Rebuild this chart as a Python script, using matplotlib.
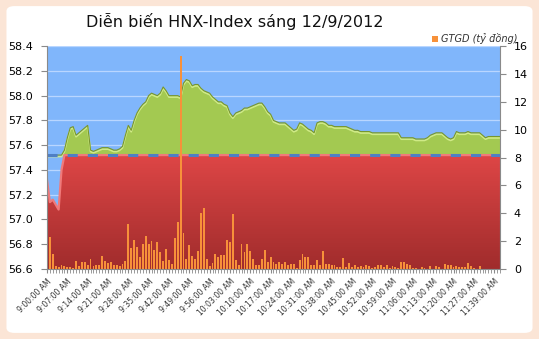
import numpy as np
import matplotlib.pyplot as plt
from matplotlib.patches import FancyBboxPatch
from matplotlib.colors import to_rgb

title = "Diễn biến HNX-Index sáng 12/9/2012"
legend_label = "GTGD (tỷ đồng)"
ref_level = 57.52

# one category per minute, morning session plus the closing minutes
minutes = list(range(9 * 60, 11 * 60 + 31)) + list(range(11 * 60 + 36, 11 * 60 + 42))
times = [f"{m // 60}:{m % 60:02d}:00 AM" for m in minutes]

index_vals = [
    57.32, 57.14, 57.16, 57.12, 57.08, 57.40, 57.56, 57.66, 57.74, 57.75,
    57.68, 57.70, 57.72, 57.74, 57.76, 57.56, 57.55, 57.56, 57.57, 57.58,
    57.58, 57.58, 57.57, 57.56, 57.56, 57.57, 57.59, 57.68, 57.76, 57.72,
    57.80, 57.86, 57.90, 57.93, 57.95, 58.00, 58.02, 58.01, 58.00, 58.02,
    58.07, 58.04, 58.00, 58.00, 58.00, 58.00, 57.99, 58.10, 58.13, 58.12,
    58.08, 58.09, 58.09, 58.06, 58.04, 58.03, 58.02, 57.99, 57.97, 57.95,
    57.95, 57.93, 57.92, 57.86, 57.83, 57.86, 57.87, 57.88, 57.90, 57.90,
    57.91, 57.92, 57.93, 57.94, 57.94, 57.91, 57.87, 57.85, 57.80, 57.79,
    57.78, 57.78, 57.78, 57.76, 57.74, 57.72, 57.73, 57.78, 57.77, 57.75,
    57.73, 57.72, 57.70, 57.78, 57.79, 57.79, 57.78, 57.76, 57.76, 57.75,
    57.75, 57.75, 57.75, 57.75, 57.74, 57.73, 57.72, 57.72, 57.71, 57.71,
    57.71, 57.71, 57.70, 57.70, 57.70, 57.70, 57.70, 57.70, 57.70, 57.70,
    57.70, 57.70, 57.66, 57.66, 57.66, 57.66, 57.66, 57.65, 57.65, 57.65,
    57.65, 57.66, 57.68, 57.69, 57.70, 57.70, 57.70, 57.68, 57.66, 57.65,
    57.66, 57.71, 57.70, 57.70, 57.70, 57.71, 57.70, 57.70, 57.70, 57.70,
    57.68, 57.66, 57.67, 57.67, 57.67, 57.67, 57.67,
]

volume = [
    0.0, 2.27, 1.08, 0.22, 0.12, 0.29, 0.22, 0.14, 0.12, 0.07,
    0.57, 0.22, 0.5, 0.5, 0.29, 0.72, 0.22, 0.29, 0.29, 0.93,
    0.57, 0.41, 0.5, 0.29, 0.29, 0.22, 0.36, 0.57, 3.23, 1.51,
    2.08, 1.56, 0.86, 1.79, 2.37, 1.79, 1.99, 1.36, 1.94, 1.22,
    0.57, 1.41, 0.65, 0.36, 2.22, 3.37, 15.3, 2.58, 0.72, 1.72,
    0.93, 0.72, 1.29, 4.02, 4.35, 0.72, 0.22, 0.43, 1.08, 0.86,
    1.0, 1.0, 2.08, 1.94, 3.95, 0.65, 0.29, 1.79, 1.22, 1.79,
    1.29, 0.72, 0.29, 0.29, 0.72, 1.36, 0.5, 0.86, 0.5, 0.36,
    0.5, 0.36, 0.5, 0.29, 0.36, 0.36, 0.07, 0.65, 1.08, 0.86,
    0.86, 0.29, 0.29, 0.65, 0.29, 1.29, 0.36, 0.36, 0.29, 0.29,
    0.14, 0.14, 0.79, 0.14, 0.43, 0.14, 0.26, 0.14, 0.19, 0.14,
    0.26, 0.22, 0.1, 0.14, 0.26, 0.26, 0.14, 0.31, 0.1, 0.19,
    0.14, 0.1, 0.48, 0.48, 0.33, 0.26, 0.05, 0.05, 0.03, 0.12,
    0.1, 0.03, 0.19, 0.03, 0.19, 0.14, 0.03, 0.33, 0.26, 0.26,
    0.14, 0.19, 0.14, 0.14, 0.14, 0.41, 0.22, 0.05, 0.03, 0.19,
    0.0, 0.0, 0.0, 0.0, 0.0, 0.0, 0.0,
]

x = np.arange(len(times))
y = np.array(index_vals)
ymin, ymax = 56.6, 58.4

fig = plt.figure(figsize=(5.39, 3.39), dpi=100, facecolor="#fbe5d6")
fig.add_artist(FancyBboxPatch((0.012, 0.018), 0.976, 0.964,
                              boxstyle="round,pad=0,rounding_size=0.015",
                              transform=fig.transFigure, facecolor="white",
                              edgecolor="none", zorder=-10))

ax = fig.add_axes([0.0872, 0.2065, 0.8404, 0.6575])
ax.set_facecolor("#80b6fb")
for g in np.arange(56.8, 58.41, 0.2):
    ax.axhline(g, color="#b9d6ff", lw=0.9, zorder=0.5)

# green: index above the reference
top = np.maximum(y, ref_level)
ax.fill_between(x, ref_level, top, color="#a3c951", lw=0, zorder=1)
ax.plot(x, top, color="#77962f", lw=0.8, zorder=1.2)
ax.plot(x, top - 0.012, color="#d5ee8d", lw=1.2, zorder=1.1, alpha=0.9)

# red: index capped at the reference, with a vertical gradient
low = np.minimum(y, ref_level)
red = ax.fill_between(x, ymin, low, facecolor="none", lw=0, zorder=2)
c_top, c_bot = np.array(to_rgb("#de4646")), np.array(to_rgb("#a02c2c"))
t = np.linspace(0, 1, 256)[:, None, None]
grad = c_top * (1 - t) + c_bot * t
im = ax.imshow(grad, extent=(0, len(x) - 1, ymin, ref_level), aspect="auto",
               origin="upper", zorder=2)
im.set_clip_path(red.get_paths()[0], transform=ax.transData)
ax.set_xlim(0, len(x) - 1)
ax.set_ylim(ymin, ymax)
ax.plot(x, low, color="#f07a7a", lw=1.6, zorder=2.2)
ax.axhline(ref_level, color="#4f7fc4", lw=2.2, ls=(0, (3.3, 3.3)), zorder=2.5)

ax.set_yticks(np.arange(56.6, 58.41, 0.2))
ax.set_yticklabels([f"{v:.1f}" for v in np.arange(56.6, 58.41, 0.2)])
ax.set_xticks(x[::7])
ax.set_xticklabels(times[::7], rotation=45, ha="right", rotation_mode="anchor",
                   fontsize=5.5, color="#333333")
ax.set_xticks(x, minor=True)
ax.tick_params(axis="x", which="both", length=3, color="#8a8a8a", pad=3)
ax.tick_params(axis="y", length=4, color="#8a8a8a", labelsize=8, pad=6)
for s in ["top", "right"]:
    ax.spines[s].set_visible(False)
for s in ["left", "bottom"]:
    ax.spines[s].set_color("#8a8a8a")

ax2 = ax.twinx()
ax2.bar(x, volume, width=0.65, color="#f7913a", lw=0, zorder=3)
ax2.set_ylim(0, 16)
ax2.set_yticks(np.arange(0, 17, 2))
ax2.tick_params(axis="y", length=4, color="#8a8a8a", labelsize=8, pad=6)
for s in ["top", "left", "bottom"]:
    ax2.spines[s].set_visible(False)
ax2.spines["right"].set_color("#8a8a8a")

fig.text(0.436, 0.938, title, ha="center", va="center", fontsize=11.5, color="#111111")
fig.add_artist(plt.Rectangle((0.801, 0.876), 0.011, 0.018, transform=fig.transFigure,
                             facecolor="#f7913a", edgecolor="none"))
fig.text(0.818, 0.885, legend_label, ha="left", va="center", fontsize=7,
         style="italic", color="#333333")

fig.savefig("out.png", dpi=100, facecolor=fig.get_facecolor())
